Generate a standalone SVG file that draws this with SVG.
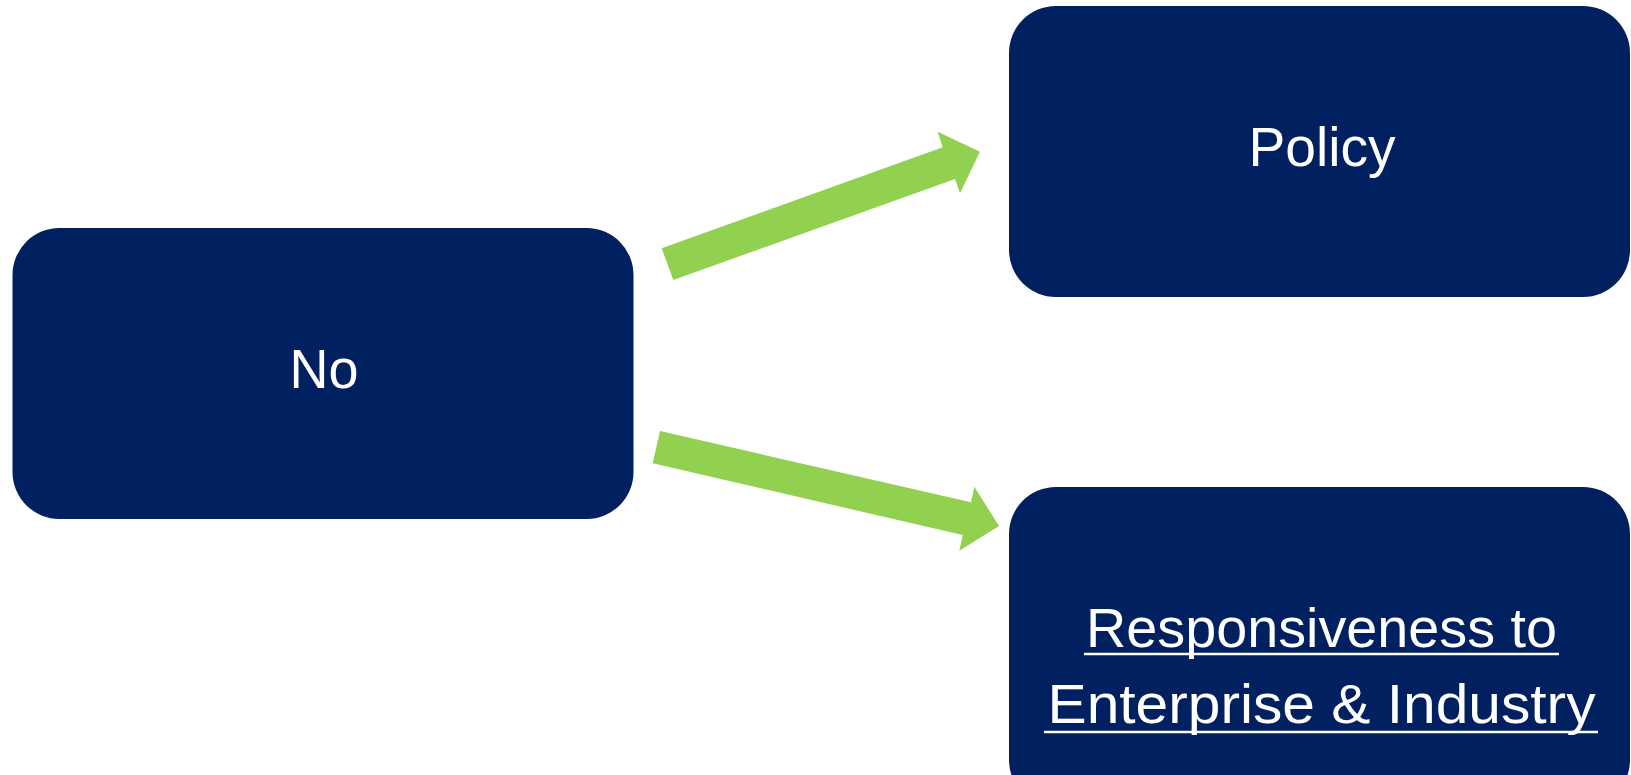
<svg xmlns="http://www.w3.org/2000/svg" width="1631" height="775" viewBox="0 0 1631 775">
<style>
.box{fill:#002060;}
.lbl{font-family:"Liberation Sans",Arial,sans-serif;font-size:56px;fill:#ffffff;text-anchor:middle;}
.ul{stroke:#ffffff;stroke-width:2.5;}
.arrow{fill:#92D050;}
</style>
<rect width="1631" height="775" fill="#ffffff"/>
<g id="node-no">
<rect class="box" x="12.5" y="228" width="621" height="291" rx="47" ry="47"/>
<text class="lbl" x="324" y="388" textLength="69" lengthAdjust="spacingAndGlyphs">No</text>
</g>
<g id="node-policy">
<rect class="box" x="1009" y="6" width="621" height="291" rx="47" ry="47"/>
<text class="lbl" x="1322" y="166" textLength="147" lengthAdjust="spacingAndGlyphs">Policy</text>
</g>
<g id="node-responsiveness">
<rect class="box" x="1009" y="487" width="621" height="320" rx="47" ry="47"/>
<text class="lbl" x="1321.5" y="647" textLength="471" lengthAdjust="spacingAndGlyphs">Responsiveness to</text>
<line class="ul" x1="1084" y1="654" x2="1559" y2="654"/>
<text class="lbl" x="1321.5" y="723" textLength="548" lengthAdjust="spacingAndGlyphs">Enterprise &amp; Industry</text>
<line class="ul" x1="1044" y1="732" x2="1598" y2="732"/>
</g>
<g id="connectors">
<polygon class="arrow" points="673.3,280 661.7,248.3 942.7,147.3 937.7,131.7 980,151.7 960,193.3 955,179"/>
<polygon class="arrow" points="660,431 652.7,463.3 962.7,535 959.3,550.7 999,526 974.3,486.7 971,502.3"/>
</g>
</svg>
